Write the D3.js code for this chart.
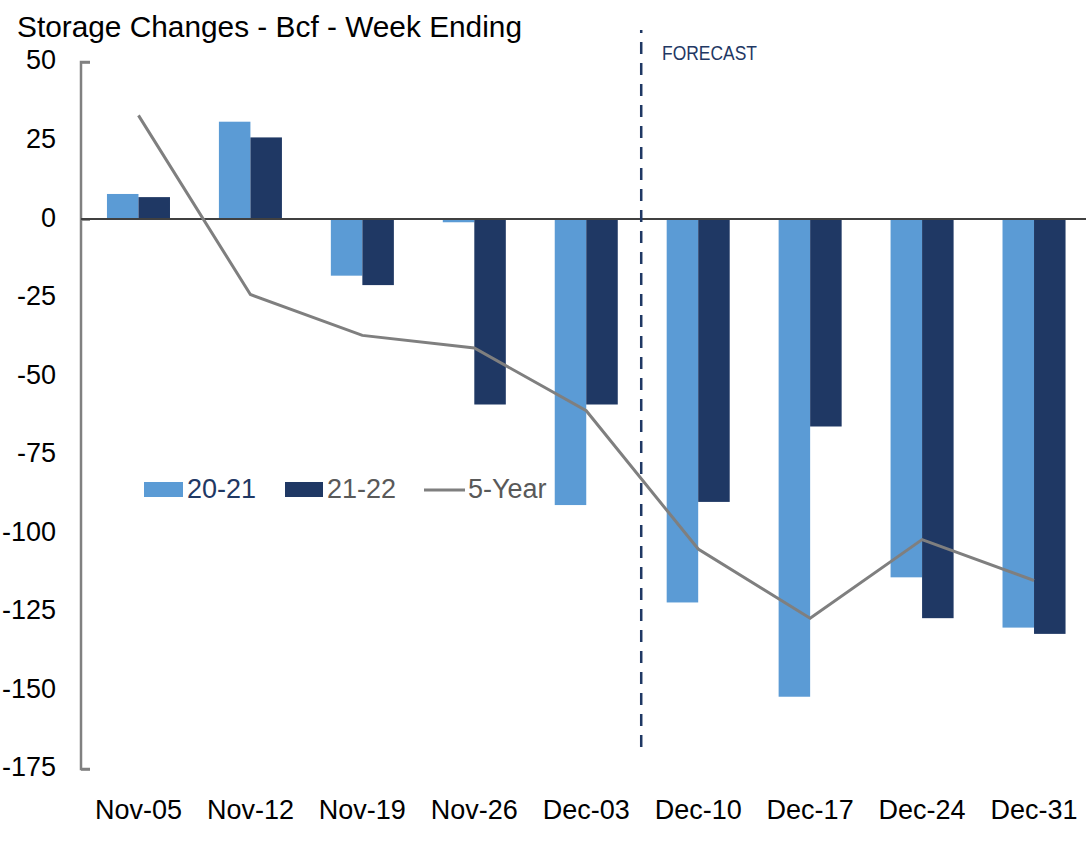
<!DOCTYPE html>
<html><head><meta charset="utf-8">
<script src="https://cdn.jsdelivr.net/npm/d3@7"></script>
<style>
html,body{margin:0;padding:0;background:#fff;}
svg{display:block;}
text{font-family:"Liberation Sans",Arial,sans-serif;}
</style></head>
<body>
<svg id="chart" width="1086" height="851"></svg>
<script>
const categories = ["Nov-05","Nov-12","Nov-19","Nov-26","Dec-03","Dec-10","Dec-17","Dec-24","Dec-31"];
const series2021 = [8, 31, -18, -1, -91, -122, -152, -114, -130];
const series2122 = [7, 26, -21, -59, -59, -90, -66, -127, -132];
const fiveYear = [33, -24, -37, -41, -61, -105, -127, -102, -115];
const yTicks = [50, 25, 0, -25, -50, -75, -100, -125, -150, -175];
const seriesNames = ["20-21", "21-22", "5-Year"];
const forecastStart = "Dec-10";

const svg = d3.select("#chart");
const W = 1086, H = 851;
const C_LIGHT = "#5B9BD5", C_DARK = "#1F3864", C_LINE = "#7F7F7F";

const x = d3.scaleBand().domain(categories).range([82.5, 1090]).paddingInner(0.437).paddingOuter(0.2185);
const xInner = d3.scaleBand().domain(["a","b"]).range([0, x.bandwidth()]);
const y = d3.scaleLinear().domain([-175, 50]).range([769, 62]);

// title
svg.append("text").attr("x", 17).attr("y", 37).attr("font-size", 30).attr("fill", "#000")
  .attr("textLength", 505).attr("lengthAdjust", "spacingAndGlyphs")
  .text("Storage Changes - Bcf - Week Ending");

// y axis
const yAxis = d3.axisRight(y).tickValues(yTicks).tickSize(9).tickFormat("");
const gy = svg.append("g").attr("transform", "translate(81,0)").call(yAxis);
gy.select(".domain").attr("stroke", "#808080").attr("stroke-width", 2.5)
  .attr("d", `M9,${y(50)}H0V${y(-175)}H9`);
gy.selectAll(".tick line").attr("stroke", "#808080").attr("stroke-width", 2.5)
  .filter(d => d !== 50 && d !== -175 && d !== 0).attr("x2", 0);
svg.append("g").selectAll("text").data(yTicks).join("text")
  .attr("x", 56).attr("y", d => y(d) - 2).attr("dy", "0.35em").attr("text-anchor", "end")
  .attr("font-size", 27).attr("fill", "#000").text(d => d);

// bars
const groups = svg.append("g").selectAll("g").data(categories).join("g")
  .attr("transform", d => `translate(${x(d)},0)`);
groups.append("rect").attr("x", xInner("a")).attr("width", xInner.bandwidth())
  .attr("y", (d, i) => y(Math.max(0, series2021[i])))
  .attr("height", (d, i) => Math.abs(y(series2021[i]) - y(0)))
  .attr("fill", C_LIGHT);
groups.append("rect").attr("x", xInner("b")).attr("width", xInner.bandwidth())
  .attr("y", (d, i) => y(Math.max(0, series2122[i])))
  .attr("height", (d, i) => Math.abs(y(series2122[i]) - y(0)))
  .attr("fill", C_DARK);

// zero line
svg.append("line").attr("x1", 81).attr("x2", W).attr("y1", y(0)).attr("y2", y(0))
  .attr("stroke", "#404040").attr("stroke-width", 2);

// 5-year line
const line = d3.line().x((d, i) => x(categories[i]) + x.bandwidth() / 2).y(d => y(d));
svg.append("path").datum(fiveYear).attr("d", line).attr("fill", "none")
  .attr("stroke", C_LINE).attr("stroke-width", 3);

// forecast divider
const fIdx = categories.indexOf(forecastStart);
const fx = (x(categories[fIdx - 1]) + x.bandwidth() + x(categories[fIdx])) / 2 - 1;
svg.append("line").attr("x1", fx).attr("x2", fx).attr("y1", 30).attr("y2", 752)
  .attr("stroke", C_DARK).attr("stroke-width", 2.5).attr("stroke-dasharray", "12,9")
  .attr("stroke-dashoffset", 9);
svg.append("text").attr("x", 662).attr("y", 60).attr("font-size", 20)
  .attr("textLength", 95).attr("lengthAdjust", "spacingAndGlyphs")
  .attr("fill", C_DARK).text("FORECAST");

// x labels
svg.append("g").selectAll("text").data(categories).join("text")
  .attr("x", d => x(d) + x.bandwidth() / 2).attr("y", 819).attr("text-anchor", "middle")
  .attr("font-size", 27).attr("fill", "#000").text(d => d);

// legend
const lg = svg.append("g");
lg.append("rect").attr("x", 144).attr("y", 482).attr("width", 39).attr("height", 15).attr("fill", C_LIGHT);
lg.append("text").attr("x", 187).attr("y", 498).attr("font-size", 27).attr("fill", C_DARK).text(seriesNames[0]);
lg.append("rect").attr("x", 285).attr("y", 482).attr("width", 38).attr("height", 15).attr("fill", C_DARK);
lg.append("text").attr("x", 327).attr("y", 498).attr("font-size", 27).attr("fill", "#595959").text(seriesNames[1]);
lg.append("line").attr("x1", 424).attr("x2", 465).attr("y1", 490).attr("y2", 490).attr("stroke", C_LINE).attr("stroke-width", 3);
lg.append("text").attr("x", 468).attr("y", 498).attr("font-size", 27).attr("fill", "#595959").text(seriesNames[2]);
</script>
</body></html>
